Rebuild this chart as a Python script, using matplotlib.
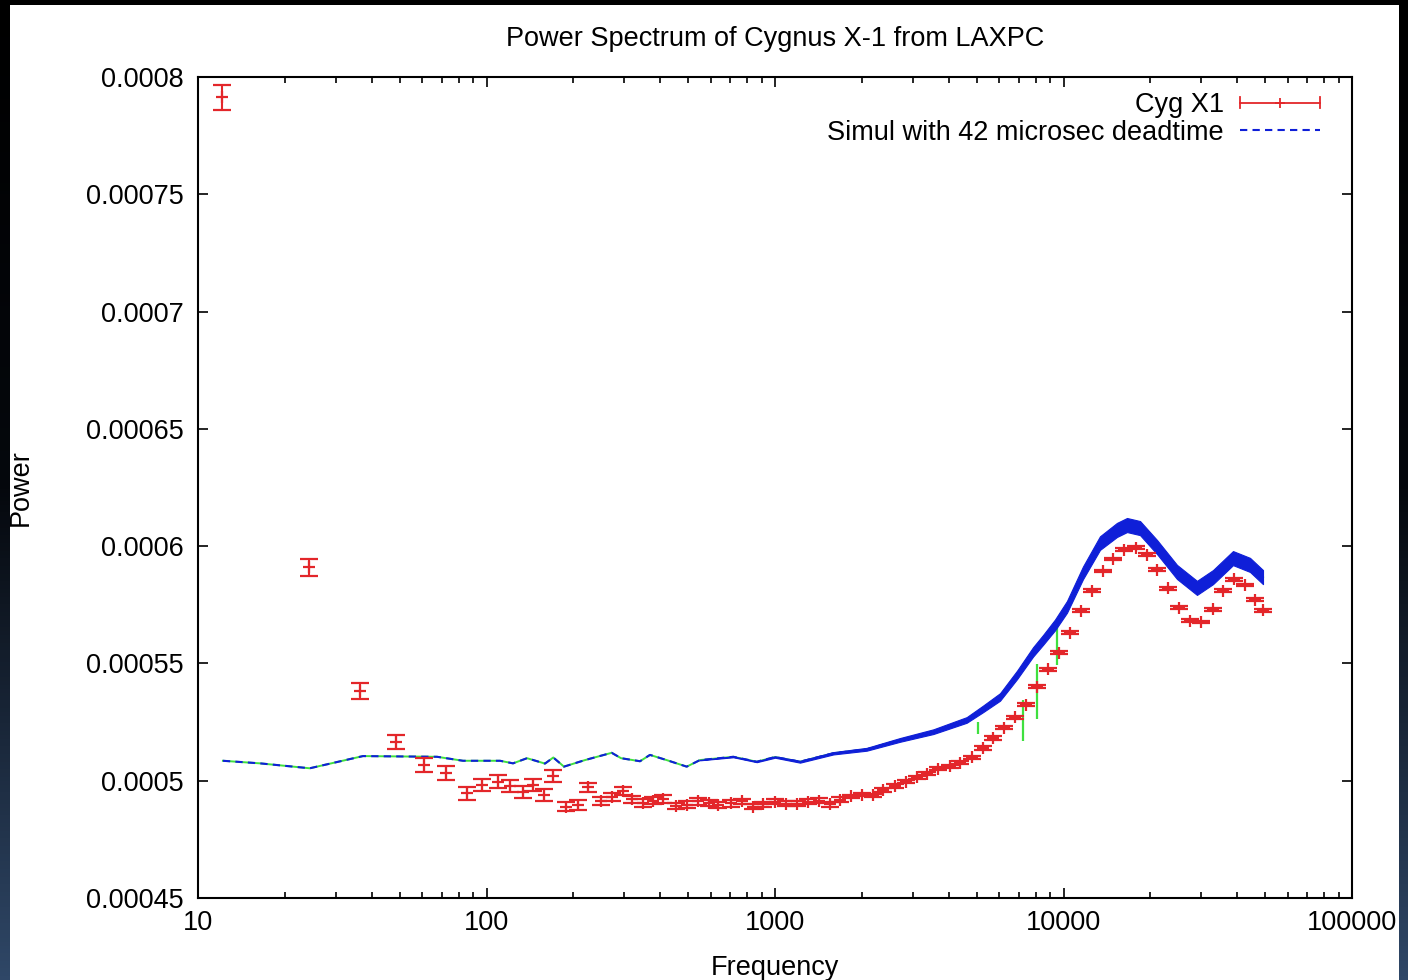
import matplotlib
matplotlib.use("Agg")
import numpy as np
import matplotlib.pyplot as plt
from matplotlib.lines import Line2D
from matplotlib.legend_handler import HandlerBase
from matplotlib.ticker import FixedLocator, NullFormatter
from matplotlib.colors import LinearSegmentedColormap

plt.rcParams["font.family"] = ["Liberation Sans", "DejaVu Sans"]

# ---------------------------------------------------------------- data
# Cyg X-1 power spectrum (rebinned), frequency in Hz
cyg_freq = [12.1, 24.2, 36.4, 48.6, 60.7, 72.4, 85.8, 96.2, 109.4, 120.6,
            133.5, 145.3, 158.6, 170.4, 188.6, 207, 225.3, 248.7, 271.6, 296.5,
            318.6, 349.6, 377.6, 409.1, 453.7, 493.5, 542.2, 590.3, 636.0, 701.3,
            766.7, 838.9, 910.8, 1000, 1094.5, 1189, 1301, 1424, 1551, 1683,
            1827, 1998, 2186, 2368, 2596, 2834, 3099, 3373, 3681, 4043,
            4388, 4806, 5248, 5696, 6220, 6792, 7430, 8094, 8836, 9610,
            10500, 11470, 12520, 13670, 14880, 16210, 17840, 19430, 21140, 23080,
            25200, 27450, 29960, 32900, 35730, 38900, 42410, 46120, 49270]
cyg_power = [0.0007913, 0.000591, 0.0005384, 0.0005166, 0.0005067, 0.0005032, 0.0004946, 0.0004982, 0.0004996, 0.0004977,
             0.0004953, 0.0004982, 0.0004939, 0.000502, 0.0004889, 0.0004896, 0.0004972, 0.0004914, 0.0004931, 0.0004957,
             0.000492, 0.0004905, 0.0004914, 0.0004922, 0.0004892, 0.0004898, 0.0004912, 0.0004905, 0.0004896, 0.0004903,
             0.0004912, 0.000489, 0.0004899, 0.0004911, 0.0004902, 0.0004902, 0.0004911, 0.0004915, 0.0004899, 0.0004919,
             0.0004933, 0.0004941, 0.0004937, 0.0004959, 0.0004978, 0.0004996, 0.0005015, 0.000503, 0.0005051, 0.0005061,
             0.0005077, 0.0005099, 0.0005139, 0.0005182, 0.0005226, 0.000527, 0.0005324, 0.0005401, 0.0005475, 0.0005546,
             0.0005631, 0.0005725, 0.000581, 0.0005894, 0.0005945, 0.0005985, 0.0005994, 0.0005964, 0.00059, 0.000582,
             0.0005737, 0.0005682, 0.0005677, 0.0005731, 0.000581, 0.0005859, 0.0005834, 0.0005772, 0.0005727]
cyg_err = [5.3e-6, 3.7e-6, 3.4e-6, 3.1e-6, 3.0e-6, 3.0e-6, 2.8e-6, 2.7e-6, 2.7e-6, 2.6e-6,
           2.6e-6, 2.5e-6, 2.5e-6, 2.5e-6, 2.0e-6, 2.0e-6, 1.9e-6, 1.8e-6, 1.8e-6, 1.7e-6,
           1.6e-6, 1.6e-6, 1.5e-6, 1.5e-6, 1.4e-6, 1.4e-6, 1.4e-6, 1.3e-6, 1.3e-6, 1.3e-6,
           1.2e-6, 1.2e-6, 1.2e-6, 1.1e-6, 1.1e-6, 1.1e-6, 1.0e-6, 1.0e-6, 1.0e-6, 1.0e-6,
           0.8e-6, 0.8e-6, 0.8e-6, 0.8e-6, 0.8e-6, 0.7e-6, 0.7e-6, 0.7e-6, 0.7e-6, 0.7e-6,
           0.7e-6, 0.7e-6, 0.7e-6, 0.7e-6, 0.7e-6, 0.7e-6, 0.7e-6, 0.7e-6, 0.7e-6, 0.7e-6,
           0.6e-6, 0.6e-6, 0.6e-6, 0.6e-6, 0.6e-6, 0.6e-6, 0.6e-6, 0.6e-6, 0.6e-6, 0.6e-6,
           0.6e-6, 0.6e-6, 0.6e-6, 0.6e-6, 0.6e-6, 0.6e-6, 0.6e-6, 0.6e-6, 0.6e-6]

# simulated spectrum with 42 microsecond dead time
sim_freq = [12.2, 16.4, 24.4, 37.3, 67.4, 82.9, 111.4, 123.6, 138.2, 159.5,
            170.4, 185.6, 219.5, 271.6, 292.6, 340.5, 368.7, 421, 456, 494.3,
            549.5, 717.2, 864.3, 1000, 1221, 1593, 2079, 2713, 3538, 4617,
            5260, 6025, 6901, 7842, 8492, 9343, 10280, 11680, 13380, 15320,
            16600, 18420, 21100, 24740, 29020, 32980, 38680, 44310, 49150]
sim_power = [0.0005085, 0.0005074, 0.0005053, 0.0005105, 0.0005102, 0.0005085, 0.0005085, 0.0005074, 0.0005096, 0.0005073,
             0.0005099, 0.000506, 0.0005088, 0.0005119, 0.0005096, 0.0005083, 0.000511, 0.0005088, 0.0005074, 0.000506,
             0.0005088, 0.0005102, 0.0005081, 0.0005101, 0.0005081, 0.0005117, 0.0005134, 0.0005174, 0.0005209, 0.0005259,
             0.0005306, 0.0005357, 0.0005451, 0.0005549, 0.00056, 0.0005664, 0.0005741, 0.0005886, 0.0006013, 0.0006069,
             0.000609, 0.0006077, 0.0005996, 0.000589, 0.0005822, 0.0005868, 0.0005949, 0.000592, 0.0005868]
# half-width of the point-to-point scatter of the simulated spectrum
sim_scatter = [0, 0, 0, 0, 0, 0, 0, 0, 0, 0,
               0, 0, 0, 0, 0, 0, 0, 0, 0, 0,
               0.1e-6, 0.2e-6, 0.2e-6, 0.3e-6, 0.4e-6, 0.5e-6, 0.6e-6, 0.8e-6, 1.0e-6, 1.2e-6,
               1.4e-6, 1.6e-6, 1.8e-6, 2.0e-6, 2.1e-6, 2.3e-6, 2.5e-6, 2.7e-6, 2.9e-6, 3.0e-6,
               3.0e-6, 3.0e-6, 3.0e-6, 3.0e-6, 3.0e-6, 3.0e-6, 3.0e-6, 3.0e-6, 3.0e-6]
# isolated low excursions in the simulated spectrum
sim_dip_freq = [5054, 7221, 8094, 9472]
sim_dip_low = [0.0005199, 0.0005169, 0.0005263, 0.0005493]
sim_dip_high = [0.000525, 0.0005344, 0.0005498, 0.0005664]

y_ticks = [0.00045, 0.0005, 0.00055, 0.0006, 0.00065, 0.0007, 0.00075, 0.0008]
y_tick_labels = ["0.00045", "0.0005", "0.00055", "0.0006", "0.00065", "0.0007", "0.00075", "0.0008"]
x_ticks = [10, 100, 1000, 10000, 100000]
x_tick_labels = ["10", "100", "1000", "10000", "100000"]

RED = "#e3262a"
BLUE = "#0f1fd8"
GREEN = "#3fe03f"
FS = 19.5


class GnuErrorbarHandler(HandlerBase):
    """Key sample: horizontal bar with end ticks and a '+' point in the middle."""

    def create_artists(self, legend, orig_handle, xdescent, ydescent,
                       width, height, fontsize, trans):
        x0, x1 = -xdescent, -xdescent + width
        y = (height - ydescent) / 2.0
        c = 0.3 * height
        col = orig_handle.get_color()
        kw = dict(color=col, lw=1.3, transform=trans)
        arts = [Line2D([x0, x1], [y, y], **kw),
                Line2D([x0, x0], [y - c, y + c], **kw),
                Line2D([x1, x1], [y - c, y + c], **kw),
                Line2D([(x0 + x1) / 2], [y], marker="+", ms=7, mew=1.3,
                       color=col, transform=trans, linestyle="none")]
        return arts


fig = plt.figure(figsize=(14.08, 9.8), dpi=100)
fig.patch.set_facecolor("white")
ax = fig.add_axes([198 / 1408, 82 / 980, 1154 / 1408, 821 / 980])

sf = np.array(sim_freq)
sp = np.array(sim_power)
ss = np.array(sim_scatter)

ax.plot(sf, sp, color=GREEN, lw=1.4, zorder=2)
ax.vlines(sim_dip_freq, sim_dip_low, sim_dip_high, color=GREEN, lw=1.6, zorder=2)
ax.fill_between(sf, sp - ss, sp + ss, where=ss > 0, facecolor=BLUE,
                edgecolor=BLUE, lw=0.8, zorder=3)
sim_line, = ax.plot(sf, sp, color=BLUE, lw=1.5, dashes=(3.5, 2.5), zorder=4)

cyg = ax.errorbar(cyg_freq, cyg_power, yerr=cyg_err, fmt="+", color=RED,
                  ms=9, mew=1.6, elinewidth=1.5, capsize=6.5, capthick=1.5,
                  zorder=5)

ax.set_xscale("log")
ax.set_xlim(10, 100000)
ax.set_ylim(0.00045, 0.0008)

ax.xaxis.set_major_locator(FixedLocator(x_ticks))
ax.set_xticklabels(x_tick_labels)
ax.xaxis.set_minor_locator(FixedLocator(
    [m * 10 ** d for d in range(1, 5) for m in range(2, 10)]))
ax.xaxis.set_minor_formatter(NullFormatter())
ax.yaxis.set_major_locator(FixedLocator(y_ticks))
ax.set_yticklabels(y_tick_labels)

ax.tick_params(which="both", direction="in", top=True, right=True,
               color="black", width=1.2)
ax.tick_params(which="major", length=7, labelsize=FS)
ax.tick_params(which="minor", length=4)
ax.tick_params(axis="y", pad=10.5)
ax.tick_params(axis="x", pad=8.5)
for s in ax.spines.values():
    s.set_linewidth(1.5)

ax.set_title("Power Spectrum of Cygnus X-1 from LAXPC", fontsize=FS, pad=22)
ax.set_xlabel("Frequency", fontsize=FS)
ax.set_ylabel("Power", fontsize=FS)
ax.xaxis.set_label_coords(0.5, -0.069)
ax.yaxis.set_label_coords(-0.142, 0.5)

red_proxy = Line2D([], [], color=RED)
ax.legend([red_proxy, sim_line], ["Cyg X1", "Simul with 42 microsec deadtime"],
          handler_map={red_proxy: GnuErrorbarHandler()},
          loc="upper right", bbox_to_anchor=((1320 - 198) / 1154, 0.9815),
          frameon=False, markerfirst=False, fontsize=FS,
          handlelength=2.95, handletextpad=0.6, labelspacing=0.06,
          borderpad=0, borderaxespad=0)

# dark screen edges around the plot
edge_cmap = LinearSegmentedColormap.from_list("edge", ["#000000", "#05080d", "#2f4767"])
grad = np.linspace(0, 1, 256).reshape(-1, 1)
for rect in ([0, 0, 10 / 1408, 1], [1399 / 1408, 0, 9 / 1408, 1]):
    e = fig.add_axes(rect)
    e.imshow(grad, aspect="auto", cmap=edge_cmap, origin="upper")
    e.set_axis_off()
top = fig.add_axes([0, 1 - 5 / 980, 1, 5 / 980])
top.set_facecolor("black")
top.set_xticks([])
top.set_yticks([])
for s in top.spines.values():
    s.set_visible(False)

fig.savefig("out.png", dpi=100)
